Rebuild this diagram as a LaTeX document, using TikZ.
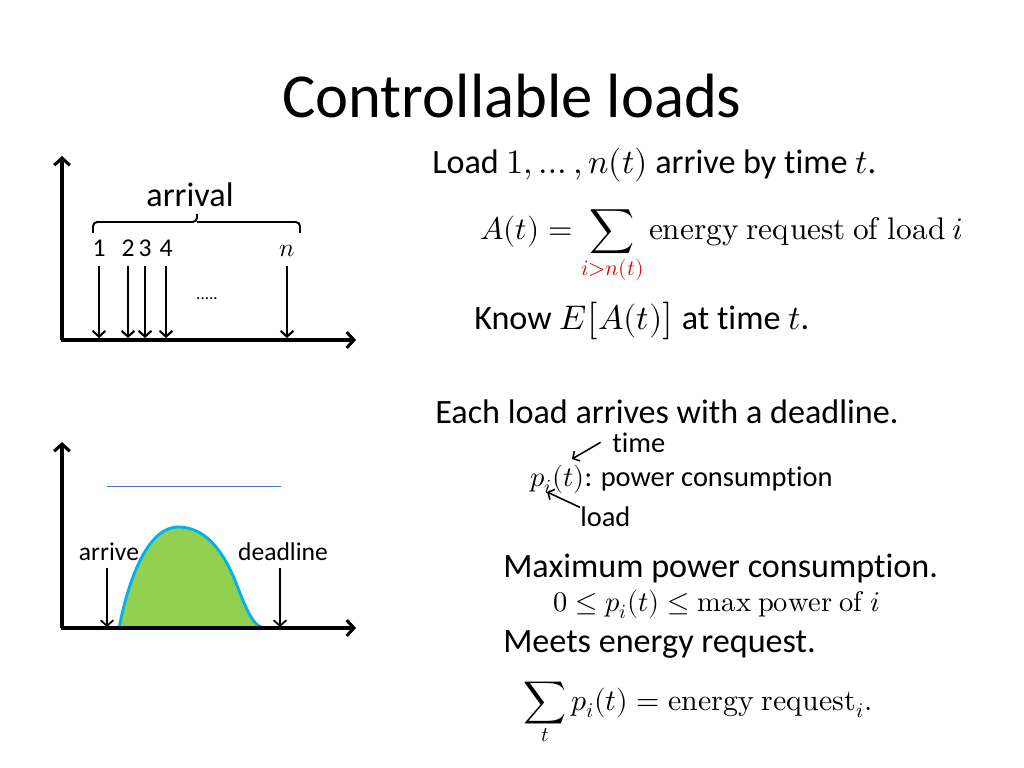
\documentclass[tikz,border=0pt]{standalone}
\usepackage{amsmath}
\usepackage{fontspec}
\usepackage{unicode-math}
\setmainfont{Carlito}[Ligatures=NoCommon]
\usetikzlibrary{arrows.meta,positioning}
\definecolor{hillgreen}{RGB}{146,208,80}
\definecolor{hillblue}{RGB}{0,176,240}
\definecolor{capblue}{RGB}{68,114,196}
\definecolor{limred}{RGB}{225,0,0}
\tikzset{
  axis/.style   ={line width=2.2pt, -{Straight Barb[length=5pt,width=11pt]}},
  drop/.style   ={line width=1.5pt, -{Straight Barb[length=4pt,width=9pt]}},
  pointer/.style={line width=1.1pt, -{Straight Barb[length=3.5pt,width=8pt]}},
  titletext/.style={font=\fontsize{44}{52}\selectfont, inner sep=0pt},
  bodytext/.style ={font=\fontsize{24}{29}\selectfont, inner sep=0pt, anchor=base west},
  smalltext/.style={font=\fontsize{20}{24}\selectfont, inner sep=0pt, anchor=base west},
  charttext/.style={font=\fontsize{18}{22}\selectfont, inner sep=0pt, anchor=base},
  numlbl/.style   ={font=\fontsize{18}{22}\selectfont, inner sep=0pt, anchor=base},
}

\begin{document}
\begin{tikzpicture}[x=0.703125pt, y=-0.703125pt]
  \fill[white] (0,0) rectangle (1024,768);
  \useasboundingbox (0,0) rectangle (1024,768);

  \node[titletext, anchor=base] (title) at (512,118) {Controllable loads};

  % arrivals chart
  \coordinate (o1) at (62,340);
  \coordinate (ytop1) at (62,156);
  \coordinate (xend1) at (356,340);
  \draw[axis] (o1) -- (ytop1);
  \draw[axis] ([xshift=-1pt]o1) -- (xend1);
  \draw[line width=1.4pt, rounded corners=3pt]
    (93,233) |- (197,222) -- (197,214) (197,222) -| (300,233);
  \node[charttext, font=\fontsize{24}{29}\selectfont] (arrival) at (190,207) {arrival};
  \foreach \k/\xx/\lab in {1/99/1, 2/128/2, 3/145/3, 4/166/4, 5/287/$n$} {
    \node[numlbl] (num\k) at (\xx,257) {\lab};
    \coordinate (hit\k) at (\xx,338);
    \draw[drop, shorten <=6pt] (num\k.south) -- (hit\k);
  }
  \node[font=\fontsize{12}{14}\selectfont, inner sep=0pt] (dots) at (207,299) {.....};

  % deadline chart
  \coordinate (o2) at (62,628);
  \coordinate (ytop2) at (62,442);
  \coordinate (xend2) at (356,628);
  \draw[capblue, line width=0.7pt] (107,486) -- (281,486);
  \fill[hillgreen] (119,628) .. controls (130,572) and (150,527) .. (178,527)
    .. controls (202,527) and (222,545) .. (238,588)
    .. controls (249,616) and (255,628) .. (266,628) -- cycle;
  \draw[hillblue, line width=2pt] (119,628) .. controls (130,572) and (150,527) .. (178,527)
    .. controls (202,527) and (222,545) .. (238,588)
    .. controls (249,616) and (255,628) .. (266,628);
  \draw[axis] (o2) -- (ytop2);
  \draw[axis] ([xshift=-1pt]o2) -- (xend2);
  \node[charttext] (arrive) at (109,560) {arrive};
  \node[charttext] (deadline) at (283,560) {deadline};
  \coordinate (hitA) at (107,627);
  \coordinate (hitD) at (280,627);
  \draw[drop, line width=1.2pt, shorten <=5pt] (arrive.south -| hitA) -- (hitA);
  \draw[drop, line width=1.2pt, shorten <=5pt] (deadline.south -| hitD) -- (hitD);

  % right column
  \node[bodytext] (loadsby) at (432,174) {Load $1,\dots,n(t)$ arrive by time $t$.};
  \node[bodytext, font=\fontsize{22}{26}\selectfont] (aform) at (480,240)
    {$A(t) = \displaystyle\sum_{\textcolor{limred}{i>n(t)}} \symup{energy\ request\ of\ load}\ i$};
  \node[bodytext] (know) at (474,329) {Know $E\big[A(t)\big]$ at time $t$.};
  \node[bodytext] (each) at (435,423) {Each load arrives with a deadline.};
  \node[smalltext] (power) at (530,486) {$p_i(t)$: power consumption};
  \node[smalltext] (timelbl) at (612,452) {time};
  \node[smalltext] (loadlbl) at (580,526) {load};
  \coordinate (tpoint) at (572,459);
  \coordinate (ipoint) at (547,492);
  \draw[pointer] (timelbl.west) ++(-8pt,0pt) -- (tpoint);
  \draw[pointer] (loadlbl.north west) ++(0pt,-1pt) -- (ipoint);
  \node[bodytext] (maxpow) at (503,577) {Maximum power consumption.};
  \node[smalltext] (bound) at (553,611) {$0 \le p_i(t) \le \symup{max\ power\ of}\ i$};
  \node[bodytext] (meets) at (503,652) {Meets energy request.};
  \node[smalltext, font=\fontsize{21}{25}\selectfont] (total) at (523,710)
    {$\displaystyle\sum_{t} p_i(t) = \symup{energy\ request}_i.$};
\end{tikzpicture}
\end{document}
